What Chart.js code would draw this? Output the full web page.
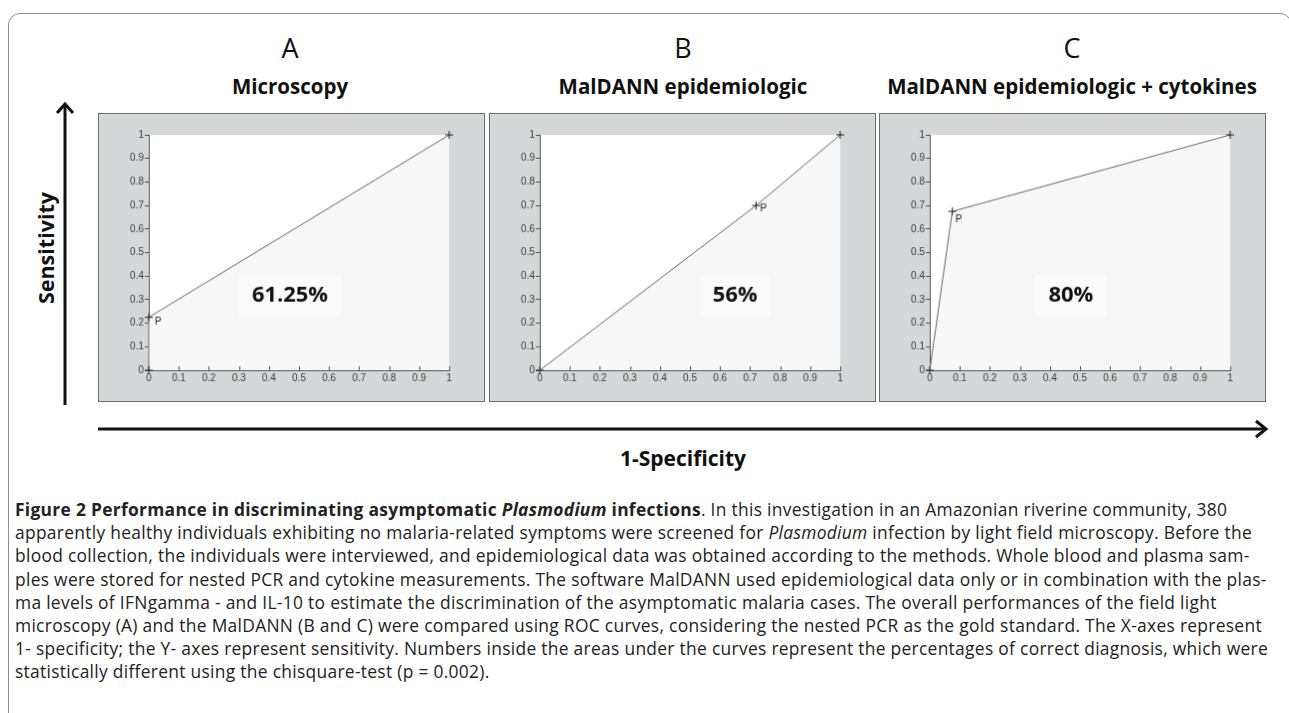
<!DOCTYPE html>
<html>
<head>
<meta charset="utf-8">
<script src="https://cdn.jsdelivr.net/npm/chart.js@4.4.0/dist/chart.umd.min.js"></script>
<style>
  body { margin: 0; background: #fff; width: 1289px; height: 713px; overflow: hidden; position: relative; font-family: 'Open Sans', sans-serif; color: #111; }
  .frame { position: absolute; left: 8px; top: 13px; width: 1282px; height: 760px; border: 1px solid #8c8c8c; border-radius: 12px; }
  canvas.panel { position: absolute; top: 113px; background: #d6d7d9; border: 1px solid #6e6e6e; }
  .letter { position: absolute; top: 31px; width: 200px; margin-left: -100px; text-align: center; font-size: 27px; line-height: 34px; }
  .title { position: absolute; top: 72px; width: 440px; margin-left: -220px; text-align: center; font-size: 20.5px; font-weight: 700; line-height: 28px; }
  .ylab { position: absolute; left: 45px; top: 248px; transform: translate(-50%, -50%) rotate(-90deg); font-size: 21.5px; font-weight: 700; white-space: nowrap; }
  .xlab { position: absolute; left: 683px; top: 458px; transform: translate(-50%, -50%); font-size: 21px; font-weight: 700; white-space: nowrap; }
  .cap { position: absolute; left: 15px; top: 498px; font-size: 17.4px; letter-spacing: 0.3px; line-height: 23.2px; color: #222; white-space: nowrap; }
  svg { position: absolute; left: 0; top: 0; }
</style>
</head>
<body>
<div class="frame"></div>

<div class="letter" style="left:290px">A</div>
<div class="letter" style="left:683px">B</div>
<div class="letter" style="left:1072px">C</div>
<div class="title" style="left:290px">Microscopy</div>
<div class="title" style="left:683px">MalDANN epidemiologic</div>
<div class="title" style="left:1072px">MalDANN epidemiologic + cytokines</div>

<svg width="1289" height="713">
  <g stroke="#111" stroke-width="3" fill="none">
    <line x1="65" y1="405" x2="65" y2="104"/>
    <polyline points="57,113 65,104 73,113"/>
    <line x1="98" y1="429" x2="1266" y2="429"/>
    <polyline points="1256,421 1266,429 1256,437"/>
  </g>
</svg>
<div class="ylab">Sensitivity</div>
<div class="xlab">1-Specificity</div>

<canvas id="chartA" class="panel" width="387" height="289" style="left:98px"></canvas>
<canvas id="chartB" class="panel" width="387" height="289" style="left:489px"></canvas>
<canvas id="chartC" class="panel" width="387" height="289" style="left:879px"></canvas>

<div class="cap">
  <div><b>Figure 2 Performance in discriminating asymptomatic <i>Plasmodium</i> infections</b>. In this investigation in an Amazonian riverine community, 380</div>
  <div>apparently healthy individuals exhibiting no malaria-related symptoms were screened for <i>Plasmodium</i> infection by light field microscopy. Before the</div>
  <div>blood collection, the individuals were interviewed, and epidemiological data was obtained according to the methods. Whole blood and plasma sam-</div>
  <div>ples were stored for nested PCR and cytokine measurements. The software MalDANN used epidemiological data only or in combination with the plas-</div>
  <div>ma levels of IFNgamma - and IL-10 to estimate the discrimination of the asymptomatic malaria cases. The overall performances of the field light</div>
  <div>microscopy (A) and the MalDANN (B and C) were compared using ROC curves, considering the nested PCR as the gold standard. The X-axes represent</div>
  <div>1- specificity; the Y- axes represent sensitivity. Numbers inside the areas under the curves represent the percentages of correct diagnosis, which were</div>
  <div>statistically different using the chisquare-test (p = 0.002).</div>
</div>

<script>
// ROC points (1-specificity, sensitivity) for each panel
const fprA = [0, 0, 1];
const tprA = [0, 0.225, 1];
const fprB = [0, 0.72, 1];
const tprB = [0, 0.70, 1];
const fprC = [0, 0.075, 1];
const tprC = [0, 0.675, 1];

// percentages of correct diagnosis
const correctPct = [61.25, 56, 80];

// tick values shared by both axes
const tickValues = [0, 0.1, 0.2, 0.3, 0.4, 0.5, 0.6, 0.7, 0.8, 0.9, 1];

const tickFont = { family: "'Liberation Sans', Arial, sans-serif", size: 10 };

// white plot background, the fill under the curve is drawn by the dataset
const plotBg = {
  id: 'plotBg',
  beforeDraw(chart) {
    const a = chart.chartArea, c = chart.ctx;
    c.save();
    c.fillStyle = '#ffffff';
    c.fillRect(a.left, a.top, a.right - a.left, a.bottom - a.top);
    c.restore();
  }
};

// matlab style inward ticks on the x axis
const innerTicks = {
  id: 'innerTicks',
  afterDatasetsDraw(chart) {
    const x = chart.scales.x, c = chart.ctx, b = chart.chartArea.bottom;
    c.save();
    c.strokeStyle = '#555';
    c.lineWidth = 1;
    x.ticks.forEach(t => {
      const px = Math.round(x.getPixelForValue(t.value)) + 0.5;
      c.beginPath();
      c.moveTo(px, b);
      c.lineTo(px, b - 4);
      c.stroke();
    });
    c.restore();
  }
};

// percent box + the "P" marker label
const labels = {
  id: 'labels',
  afterDatasetsDraw(chart, args, opts) {
    const c = chart.ctx, xs = chart.scales.x, ys = chart.scales.y;
    c.save();
    const cx = xs.getPixelForValue(opts.at[0]);
    const cy = ys.getPixelForValue(opts.at[1]);
    c.fillStyle = '#fbfbfb';
    c.fillRect(cx - opts.box[0] / 2, cy - opts.box[1] / 2, opts.box[0], opts.box[1]);
    c.fillStyle = '#111';
    c.font = "700 22px 'Open Sans', sans-serif";
    c.textAlign = 'center';
    c.textBaseline = 'middle';
    c.fillText(opts.text, cx, cy);

    const pt = chart.getDatasetMeta(0).data[opts.pIndex];
    c.font = "10px 'Liberation Sans', Arial, sans-serif";
    c.fillStyle = '#222';
    c.textAlign = 'left';
    c.fillText('P', pt.x + opts.pOff[0], pt.y + opts.pOff[1]);
    c.restore();
  }
};

function makeRoc(id, fpr, tpr, pct, at, box, pIndex, pOff) {
  const pts = fpr.map((v, i) => ({ x: v, y: tpr[i] }));
  return new Chart(document.getElementById(id), {
    type: 'line',
    data: {
      datasets: [{
        data: pts,
        borderColor: '#6a6a6a',
        borderWidth: 1,
        backgroundColor: '#f7f7f7',
        fill: 'origin',
        tension: 0,
        clip: false,
        pointStyle: 'cross',
        pointRadius: 4,
        pointBorderColor: '#222',
        pointBorderWidth: 1
      }]
    },
    options: {
      responsive: false,
      animation: false,
      events: [],
      layout: { padding: { left: 20, right: 35, top: 21, bottom: 11 } },
      plugins: {
        legend: { display: false },
        tooltip: { enabled: false },
        labels: { text: pct + '%', at: at, box: box, pIndex: pIndex, pOff: pOff }
      },
      scales: {
        x: {
          type: 'linear', min: 0, max: 1,
          afterFit: s => { s.height = 20; },
          afterBuildTicks: s => { s.ticks = tickValues.map(v => ({ value: v })); },
          border: { color: '#555', width: 1 },
          grid: { drawOnChartArea: false, drawTicks: false },
          ticks: { font: tickFont, color: '#3c3c3c', padding: 2, maxRotation: 0, autoSkip: false, callback: v => String(v) }
        },
        y: {
          type: 'linear', min: 0, max: 1,
          afterFit: s => { s.width = 30; },
          afterBuildTicks: s => { s.ticks = tickValues.map(v => ({ value: v })); },
          border: { color: '#555', width: 1 },
          grid: { drawOnChartArea: false, drawTicks: true, tickLength: 4, color: '#555' },
          ticks: { font: tickFont, color: '#3c3c3c', padding: 1, autoSkip: false, callback: v => String(v) }
        }
      }
    },
    plugins: [plotBg, innerTicks, labels]
  });
}

makeRoc('chartA', fprA, tprA, correctPct[0], [0.47, 0.318], [103, 43], 1, [6, 5]);
makeRoc('chartB', fprB, tprB, correctPct[1], [0.65, 0.318], [71, 43], 1, [4, 3]);
makeRoc('chartC', fprC, tprC, correctPct[2], [0.47, 0.318], [72, 43], 1, [3, 8]);
</script>
</body>
</html>
